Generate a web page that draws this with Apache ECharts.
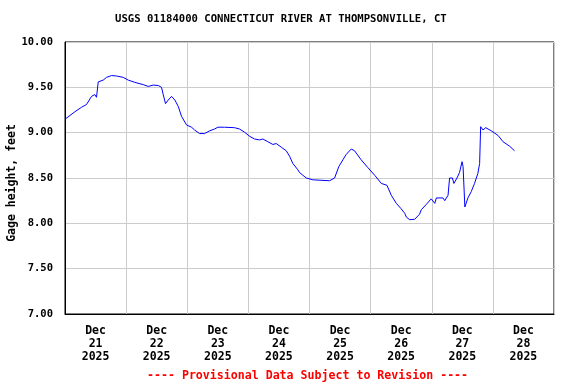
<!DOCTYPE html>
<html>
<head>
<meta charset="utf-8">
<script src="https://cdn.jsdelivr.net/npm/echarts@6/dist/echarts.min.js"></script>
<style>html,body{margin:0;padding:0;background:#fff;}#c{width:576px;height:384px;}</style>
</head>
<body>
<div id="c"></div>
<script>
// Hours since Dec 21 2025 00:00
var hours = [0, 3.85, 6.48, 8.44, 10.41, 11.70, 12.37, 13.04, 15.0, 16.3, 18.26, 20.23, 22.86, 24.82, 27.42, 30.71, 32.68, 34.64, 36.61, 37.90, 38.57, 39.47, 40.53, 41.83, 43.13, 44.46, 45.76, 47.72, 49.69, 50.86, 52.83, 54.79, 56.76, 58.72, 60.02, 62.65, 66.58, 68.54, 70.5, 72.47, 74.43, 76.40, 77.69, 79.65, 81.62, 82.95, 84.92, 86.88, 88.18, 89.47, 91.44, 92.1, 93.4, 94.74, 97.33, 98.0, 103.9, 105.85, 107.5, 109.1, 110.4, 112.4, 113.7, 116.3, 118.9, 121.6, 124.2, 126.4, 128.1, 130.1, 132.0, 133.4, 134.0, 135.3, 137.3, 139.2, 139.9, 141.9, 143.8, 145.2, 145.8, 148.4, 149.1, 150.4, 151.0, 152.1, 152.7, 153.9, 154.9, 155.9, 156.3, 157.0, 158.2, 159.5, 160.8, 162.1, 162.8, 163.2, 164.1, 165.2, 167.4, 170.0, 172.0, 174.6, 176.5];
var gageHeight = [9.148, 9.23, 9.28, 9.31, 9.40, 9.42, 9.39, 9.56, 9.58, 9.61, 9.63, 9.625, 9.61, 9.58, 9.555, 9.53, 9.51, 9.525, 9.52, 9.50, 9.42, 9.32, 9.36, 9.40, 9.36, 9.29, 9.18, 9.085, 9.06, 9.03, 8.99, 8.99, 9.02, 9.04, 9.06, 9.06, 9.055, 9.04, 9.005, 8.96, 8.93, 8.92, 8.93, 8.90, 8.87, 8.88, 8.84, 8.80, 8.74, 8.66, 8.59, 8.56, 8.53, 8.50, 8.48, 8.47, 8.47, 8.50, 8.625, 8.70, 8.76, 8.82, 8.80, 8.70, 8.615, 8.53, 8.44, 8.42, 8.31, 8.22, 8.16, 8.11, 8.07, 8.04, 8.045, 8.10, 8.15, 8.21, 8.27, 8.22, 8.28, 8.28, 8.25, 8.31, 8.50, 8.50, 8.44, 8.50, 8.56, 8.68, 8.625, 8.18, 8.28, 8.35, 8.44, 8.55, 8.66, 9.066, 9.03, 9.055, 9.02, 8.97, 8.90, 8.85, 8.80];
var xTickLabels = ['Dec\n21\n2025', 'Dec\n22\n2025', 'Dec\n23\n2025', 'Dec\n24\n2025', 'Dec\n25\n2025', 'Dec\n26\n2025', 'Dec\n27\n2025', 'Dec\n28\n2025'];
var yTicks = [7.0, 7.5, 8.0, 8.5, 9.0, 9.5, 10.0];
var titleText = 'USGS 01184000 CONNECTICUT RIVER AT THOMPSONVILLE, CT';
var yAxisTitle = 'Gage height, feet';
var footerText = '---- Provisional Data Subject to Revision ----';

var FONT = '"DejaVu Sans Mono", monospace';
var seriesData = hours.map(function (h, i) { return [h, gageHeight[i]]; });

var chart = echarts.init(document.getElementById('c'), null, { renderer: 'canvas' });
chart.setOption({
  animation: false,
  backgroundColor: '#fff',
  grid: { left: 65, right: 22, top: 42, bottom: 70, containLabel: false, outerBoundsMode: 'none', show: true, borderColor: '#000', borderWidth: 1, backgroundColor: 'transparent' },
  graphic: [
    { type: 'text', left: 115, top: 14, style: { text: titleText, fill: '#000', font: 'bold 10.6px ' + FONT }, z: 100 },
    { type: 'text', left: 147, top: 370, style: { text: footerText, fill: '#ff0000', font: 'bold 11.6px ' + FONT }, z: 100 },
    { type: 'text', x: 12, y: 183, rotation: Math.PI / 2, style: { text: yAxisTitle, fill: '#000', font: 'bold 11.5px ' + FONT, align: 'center', verticalAlign: 'middle' }, z: 100 }
  ],
  xAxis: [
    {
      type: 'value', min: 0, max: 192, interval: 24,
      axisLine: { show: true, lineStyle: { color: '#000', width: 1 } },
      axisTick: { show: false },
      axisLabel: { show: false },
      splitLine: { show: true, lineStyle: { color: '#cccccc', width: 1 } }
    },
    {
      type: 'value', min: 0, max: 192, interval: 12, position: 'bottom',
      axisLine: { show: false }, axisTick: { show: false }, splitLine: { show: false },
      axisLabel: {
        show: true, margin: 11, hideOverlap: false, showMinLabel: true, showMaxLabel: true,
        color: '#000', fontFamily: FONT, fontWeight: 'bold', fontSize: 11.5, lineHeight: 12.7,
        formatter: function (v) {
          if (v % 24 === 12) { return xTickLabels[(v - 12) / 24]; }
          return '';
        }
      }
    }
  ],
  yAxis: {
    type: 'value', min: 7, max: 10, interval: 0.5,
    axisLine: { show: true, lineStyle: { color: '#000', width: 1 } },
    axisTick: { show: false },
    axisLabel: {
      margin: 12, color: '#000', fontFamily: FONT, fontWeight: 'bold', fontSize: 10.5,
      formatter: function (v) {
        for (var i = 0; i < yTicks.length; i++) { if (Math.abs(yTicks[i] - v) < 1e-6) return yTicks[i].toFixed(2); }
        return '';
      }
    },
    splitLine: { show: true, lineStyle: { color: '#cccccc', width: 1 } }
  },
  series: [{
    type: 'line', xAxisIndex: 0, data: seriesData, showSymbol: false,
    lineStyle: { color: '#0000ff', width: 1 }, itemStyle: { color: '#0000ff' }, z: 10
  }]
});
</script>
</body>
</html>
